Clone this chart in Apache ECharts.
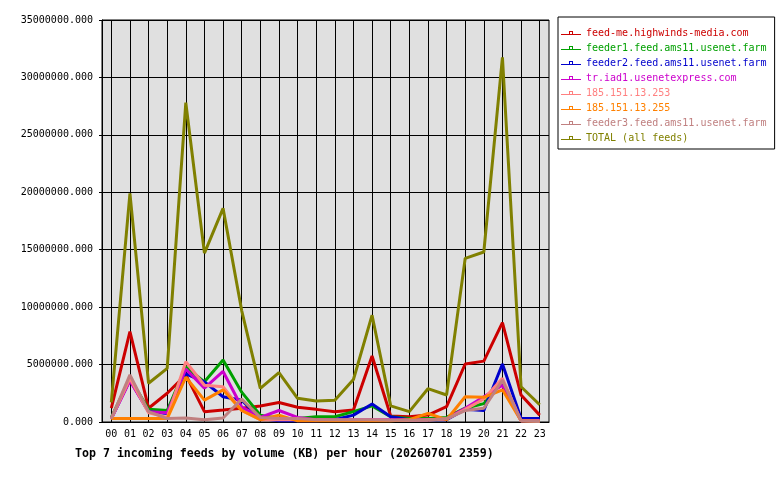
<!DOCTYPE html>
<html>
<head>
<meta charset="utf-8">
<script src="https://cdn.jsdelivr.net/npm/echarts@6/dist/echarts.min.js"></script>
<style>
  html, body { margin: 0; padding: 0; background: #fff; }
  #chart { width: 780px; height: 480px; }
</style>
</head>
<body>
<div id="chart"></div>
<script>
// hours on the x axis
const hours = ['00','01','02','03','04','05','06','07','08','09','10','11',
               '12','13','14','15','16','17','18','19','20','21','22','23']

// KB per hour
const feedMe   = [1200000, 7860000, 1200000, 2500000, 4100000, 900000, 1040000, 1200000, 1400000, 1700000, 1280000, 1100000,
                  900000, 1040000, 5750000, 520000, 460000, 600000, 1330000, 5050000, 5300000, 8650000, 2350000, 600000]
const feeder1  = [400000, 3800000, 1100000, 1000000, 4800000, 3500000, 5400000, 2600000, 600000, 300000, 300000, 460000,
                  460000, 900000, 1400000, 460000, 300000, 300000, 400000, 1200000, 1600000, 3600000, 200000, 200000]
const feeder2  = [300000, 3660000, 900000, 750000, 4200000, 3500000, 2200000, 1900000, 300000, 100000, 100000, 100000,
                  200000, 600000, 1570000, 460000, 200000, 200000, 200000, 1100000, 1000000, 5050000, 300000, 300000]
const trIad1   = [300000, 3600000, 900000, 800000, 4600000, 2950000, 4400000, 1300000, 400000, 1000000, 400000, 200000,
                  200000, 200000, 200000, 200000, 200000, 200000, 300000, 1200000, 2200000, 3200000, 100000, 100000]
const ip253    = [300000, 3800000, 800000, 400000, 5250000, 3200000, 3070000, 1000000, 200000, 200000, 200000, 150000,
                  150000, 150000, 150000, 150000, 150000, 200000, 250000, 1100000, 2000000, 3800000, 100000, 100000]
const ip255    = [300000, 300000, 300000, 300000, 3900000, 1900000, 2800000, 1000000, 200000, 600000, 100000, 100000,
                  100000, 100000, 100000, 100000, 200000, 750000, 200000, 2200000, 2150000, 2800000, 100000, 50000]
const feeder3  = [300000, 4100000, 900000, 300000, 350000, 200000, 350000, 2000000, 400000, 300000, 300000, 200000,
                  200000, 200000, 200000, 150000, 150000, 150000, 300000, 1000000, 1200000, 3650000, 100000, 50000]
const total    = [1700000, 19900000, 3370000, 4670000, 27800000, 14700000, 18600000, 9700000, 2930000, 4300000, 2060000, 1830000,
                  1900000, 3700000, 9300000, 1400000, 900000, 2900000, 2350000, 14250000, 14800000, 31750000, 3070000, 1500000]

const feedNames = ['feed-me.highwinds-media.com', 'feeder1.feed.ams11.usenet.farm', 'feeder2.feed.ams11.usenet.farm',
                   'tr.iad1.usenetexpress.com', '185.151.13.253', '185.151.13.255',
                   'feeder3.feed.ams11.usenet.farm', 'TOTAL (all feeds)']
const feedColors = ['#cc0000', '#00a000', '#0000cc', '#cc00cc', '#ff8080', '#ff8000', '#c08080', '#808000']
const feedData = [feedMe, feeder1, feeder2, trIad1, ip253, ip255, feeder3, total]

const mono = 'DejaVu Sans Mono'
// thin line with a small hollow square on it
const legendIcon = 'path://M0,3h20v1h-20z M8,0h4v4h-4z M9,1v2h2v-2z'

const chart = echarts.init(document.getElementById('chart'))

const series = feedNames.map((name, i) => ({
  name: name,
  type: 'line',
  data: feedData[i],
  showSymbol: false,
  lineStyle: { width: 3, color: feedColors[i] },
  itemStyle: { color: feedColors[i] },
  emphasis: { disabled: true }
}))

chart.setOption({
  animation: false,
  backgroundColor: '#ffffff',
  title: {
    text: 'Top 7 incoming feeds by volume (KB) per hour (20260701 2359)',
    left: 70,
    top: 443,
    textStyle: { fontFamily: mono, fontSize: 11.6, fontWeight: 'bold', color: '#000' }
  },
  legend: {
    orient: 'vertical',
    left: 558,
    top: 17,
    padding: [10, 8, 5, 3],
    borderColor: '#000',
    borderWidth: 1,
    icon: legendIcon,
    itemWidth: 20,
    itemHeight: 4,
    itemGap: 3,
    itemStyle: { borderWidth: 0 },
    data: feedNames.map((n, i) => ({ name: n, textStyle: { color: feedColors[i] } })),
    textStyle: { fontFamily: mono, fontSize: 10, lineHeight: 12 }
  },
  grid: {
    left: 102,
    right: 231,
    top: 20,
    bottom: 58,
    show: true,
    backgroundColor: '#e0e0e0',
    borderColor: '#000',
    borderWidth: 1
  },
  xAxis: {
    type: 'category',
    data: hours,
    boundaryGap: true,
    axisLine: { lineStyle: { color: '#000' } },
    axisTick: { alignWithLabel: true, length: 3, lineStyle: { color: '#000' } },
    axisLabel: { fontFamily: mono, fontSize: 10, color: '#000', margin: 7, interval: 0 },
    splitLine: { show: true, alignWithLabel: true, lineStyle: { color: '#000', width: 1 } }
  },
  yAxis: {
    type: 'value',
    min: 0,
    max: 35000000,
    interval: 5000000,
    axisLine: { show: true, lineStyle: { color: '#000' } },
    axisTick: { show: true, length: 3, lineStyle: { color: '#000' } },
    axisLabel: {
      fontFamily: mono, fontSize: 10, color: '#000', margin: 9,
      formatter: v => v.toFixed(3)
    },
    splitLine: { show: true, lineStyle: { color: '#000', width: 1 } }
  },
  series: series
})
</script>
</body>
</html>
